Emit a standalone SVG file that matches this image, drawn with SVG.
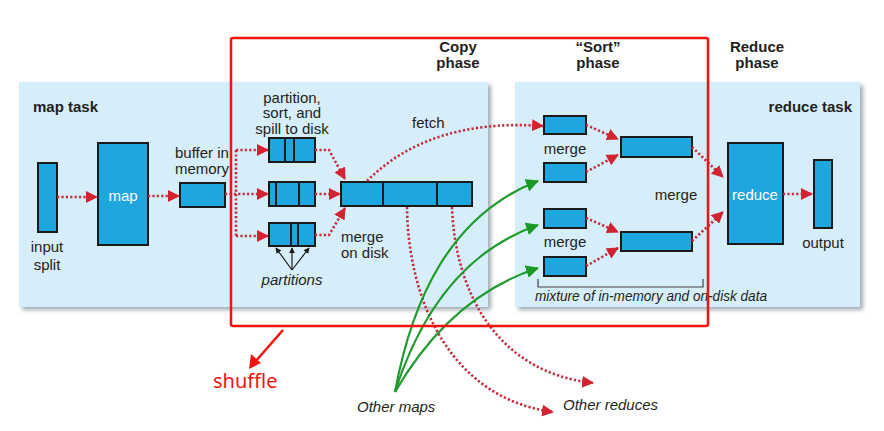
<svg xmlns="http://www.w3.org/2000/svg" width="884" height="431" viewBox="0 0 884 431">
<defs>
<style>
.panel{fill:#d6eef9}
.box{fill:#1ea6df;stroke:#1a1a1a;stroke-width:2}
.div{stroke:#1a1a1a;stroke-width:2}
.dot{fill:none;stroke:#c62a3b;stroke-width:2.6;stroke-dasharray:2.2 2.2}
.grn{fill:none;stroke:#1f9a2c;stroke-width:2.2}
.blk{fill:none;stroke:#1a1a1a;stroke-width:1.2}
.t{font-family:"Liberation Sans",Arial,sans-serif;fill:#231f20;font-size:15px}
.b{font-weight:bold}
.i{font-style:italic}
.w{fill:#ffffff}
.c{text-anchor:middle}
</style>
<filter id="sh" x="-5%" y="-5%" width="115%" height="120%">
<feDropShadow dx="3" dy="3" stdDeviation="2" flood-color="#7a8a94" flood-opacity="0.7"/>
</filter>
<marker id="ar" viewBox="0 0 12 12" refX="11" refY="6" markerWidth="12" markerHeight="12" markerUnits="userSpaceOnUse" orient="auto">
<path d="M0,0 L12,6 L0,12 z" fill="#d22331"/>
</marker>
<marker id="ag" viewBox="0 0 12 12" refX="11" refY="6" markerWidth="13" markerHeight="13" markerUnits="userSpaceOnUse" orient="auto">
<path d="M0,0 L12,6 L0,12 z" fill="#1a9a24"/>
</marker>
<marker id="ak" viewBox="0 0 8 8" refX="7" refY="4" markerWidth="6" markerHeight="6" markerUnits="userSpaceOnUse" orient="auto">
<path d="M0,0 L8,4 L0,8 z" fill="#1a1a1a"/>
</marker>
</defs>
<rect width="884" height="431" fill="#ffffff"/>

<g id="map-task-panel">
<rect class="panel" x="19" y="82" width="469" height="225" filter="url(#sh)"/>
<text class="t b" x="33" y="112" font-size="17">map task</text>
</g>
<g id="reduce-task-panel">
<rect class="panel" x="515" y="82" width="345" height="225" filter="url(#sh)"/>
<text class="t b" x="852" y="112" font-size="17" text-anchor="end">reduce task</text>
</g>

<g id="phase-labels">
<text class="t b c" x="458" y="52" font-size="14">Copy</text>
<text class="t b c" x="458" y="68" font-size="14">phase</text>
<text class="t b c" x="598" y="52" font-size="14">“Sort”</text>
<text class="t b c" x="598" y="68" font-size="14">phase</text>
<text class="t b c" x="757" y="52" font-size="14">Reduce</text>
<text class="t b c" x="757" y="68" font-size="14">phase</text>
</g>

<g id="input-split">
<rect class="box" x="38" y="163" width="19" height="69"/>
<text class="t c" x="47" y="252" font-size="15">input</text>
<text class="t c" x="47" y="270" font-size="15">split</text>
</g>
<g id="map">
<rect class="box" x="98" y="143" width="50" height="102"/>
<text class="t c w" x="123" y="201" font-size="16">map</text>
</g>
<g id="buffer">
<rect class="box" x="180" y="183" width="45" height="24"/>
<text class="t c" x="202" y="158" font-size="13">buffer in</text>
<text class="t c" x="202" y="174" font-size="13">memory</text>
</g>
<g id="spill-partitions">
<text class="t c" x="292" y="102.5" font-size="13">partition,</text>
<text class="t c" x="292" y="118" font-size="13">sort, and</text>
<text class="t c" x="292" y="133.5" font-size="13">spill to disk</text>
<rect class="box" x="269" y="138" width="46" height="24"/>
<line class="div" x1="285" y1="138" x2="285" y2="162"/>
<line class="div" x1="294" y1="138" x2="294" y2="162"/>
<rect class="box" x="269" y="182" width="46" height="24"/>
<line class="div" x1="276" y1="182" x2="276" y2="206"/>
<line class="div" x1="299" y1="182" x2="299" y2="206"/>
<rect class="box" x="269" y="223" width="46" height="23"/>
<line class="div" x1="291" y1="223" x2="291" y2="246"/>
<line class="div" x1="298" y1="223" x2="298" y2="246"/>
<text class="t c i" x="292" y="285" font-size="14">partitions</text>
</g>
<g id="merge-on-disk">
<rect class="box" x="341" y="182" width="131" height="24"/>
<line class="div" x1="383" y1="182" x2="383" y2="206"/>
<line class="div" x1="437" y1="182" x2="437" y2="206"/>
<text class="t" x="341" y="241.5" font-size="13">merge</text>
<text class="t" x="341" y="257.5" font-size="13">on disk</text>
<text class="t" x="412" y="128" font-size="14">fetch</text>
</g>

<g id="sort-merges">
<rect class="box" x="544" y="116" width="42" height="18"/>
<rect class="box" x="544" y="163" width="42" height="19"/>
<rect class="box" x="544" y="209" width="42" height="19"/>
<rect class="box" x="544" y="257" width="42" height="19"/>
<text class="t c" x="565" y="154" font-size="14">merge</text>
<text class="t c" x="565" y="247" font-size="14">merge</text>
<rect class="box" x="621" y="137" width="71" height="20"/>
<rect class="box" x="621" y="232" width="71" height="19"/>
<text class="t c" x="676" y="200" font-size="14">merge</text>
<path d="M538,279 V287 H703 V279" fill="none" stroke="#444" stroke-width="1.2"/>
<text class="t i" x="535" y="301" font-size="13.5" textLength="232" lengthAdjust="spacingAndGlyphs">mixture of in-memory and on-disk data</text>
</g>
<g id="reduce">
<rect class="box" x="728" y="143" width="55" height="101"/>
<text class="t c w" x="755" y="200" font-size="16">reduce</text>
</g>
<g id="output">
<rect class="box" x="814" y="160" width="18" height="68"/>
<text class="t c" x="823" y="248" font-size="15">output</text>
</g>

<g id="connectors">
<path class="dot" d="M57,197 H97" marker-end="url(#ar)"/>
<path class="dot" d="M148,196 H179" marker-end="url(#ar)"/>
<path class="dot" d="M225,194 H268" marker-end="url(#ar)"/>
<path class="dot" d="M236,150 V236"/>
<path class="dot" d="M236,150 H268" marker-end="url(#ar)"/>
<path class="dot" d="M236,236 H268" marker-end="url(#ar)"/>
<path class="dot" d="M315,150 H329 L345,179" marker-end="url(#ar)"/>
<path class="dot" d="M315,194 H340" marker-end="url(#ar)"/>
<path class="dot" d="M315,235 H329 L345,208" marker-end="url(#ar)"/>
<path class="blk" d="M292,270 L276,248" marker-end="url(#ak)"/>
<path class="blk" d="M292,270 L292,248" marker-end="url(#ak)"/>
<path class="blk" d="M292,270 L309,248" marker-end="url(#ak)"/>
<path class="dot" d="M367,181 Q430,118 543,126" marker-end="url(#ar)"/>
<path class="dot" d="M407,207 C408,300 450,398 553,412" marker-end="url(#ar)"/>
<path class="dot" d="M452,207 C455,290 495,372 593,383" marker-end="url(#ar)"/>
<path class="grn" d="M395,392 C412,300 450,215 538,181" marker-end="url(#ag)"/>
<path class="grn" d="M395,392 C418,320 460,252 538,225" marker-end="url(#ag)"/>
<path class="grn" d="M395,392 C425,340 470,290 538,268" marker-end="url(#ag)"/>
<path class="dot" d="M586,125 L618,139" marker-end="url(#ar)"/>
<path class="dot" d="M586,172 L618,155" marker-end="url(#ar)"/>
<path class="dot" d="M586,218 L618,232" marker-end="url(#ar)"/>
<path class="dot" d="M586,266 L618,248" marker-end="url(#ar)"/>
<path class="dot" d="M692,147 L723,177" marker-end="url(#ar)"/>
<path class="dot" d="M692,241 L723,212" marker-end="url(#ar)"/>
<path class="dot" d="M783,194 H812" marker-end="url(#ar)"/>
</g>

<g id="other-labels">
<text class="t i" x="357" y="412" font-size="14">Other maps</text>
<text class="t i" x="563" y="410" font-size="14">Other reduces</text>
</g>

<g id="shuffle">
<rect x="231" y="38" width="477" height="288" rx="2" fill="none" stroke="#f2140c" stroke-width="2.5"/>
<path d="M283,330 L255,362" stroke="#f2140c" stroke-width="2.5" fill="none"/>
<path d="M249,369 L251,354 L261,363 z" fill="#f2140c"/>
<text x="213" y="388" font-family="'Noto Sans',sans-serif" font-size="20" fill="#f2140c">shuffle</text>
</g>
</svg>
